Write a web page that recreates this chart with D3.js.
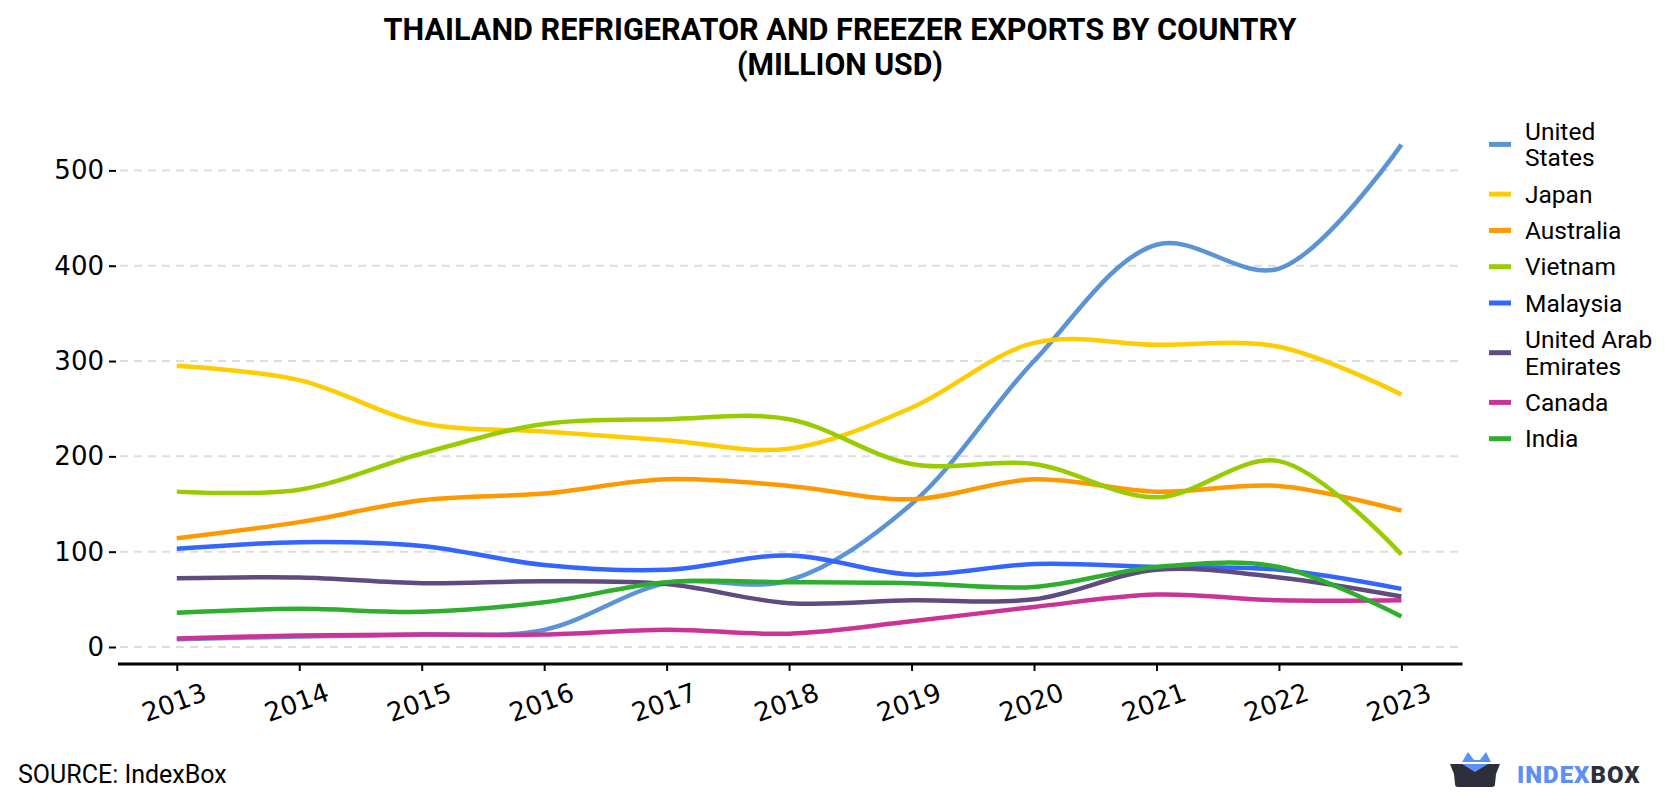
<!DOCTYPE html>
<html>
<head>
<meta charset="utf-8">
<script src="https://cdn.jsdelivr.net/npm/d3@7"></script>
<style>
  html, body { margin: 0; padding: 0; background: #fff; }
  svg { display: block; }
</style>
</head>
<body>
<svg id="chart" width="1680" height="800"></svg>
<script>
const years = [2013, 2014, 2015, 2016, 2017, 2018, 2019, 2020, 2021, 2022, 2023];
const seriesNames = ["United States", "Japan", "Australia", "Vietnam", "Malaysia", "United Arab Emirates", "Canada", "India"];
const legendLines = [["United", "States"], ["Japan"], ["Australia"], ["Vietnam"], ["Malaysia"], ["United Arab", "Emirates"], ["Canada"], ["India"]];
const seriesColors = ["#5b94d6", "#ffcc00", "#ff9900", "#99cc00", "#3366ff", "#5f4b80", "#cc3399", "#2eae2e"];
const unitedStates = [8, 11, 13, 18, 67, 70, 150, 300, 422, 397, 527];
const japan = [295, 280, 235, 226, 217, 208, 251, 319, 317, 315, 265];
const australia = [114, 131, 154, 161, 176, 169, 155, 176, 163, 169, 143];
const vietnam = [163, 165, 203, 234, 239, 239, 192, 192, 157, 195, 97];
const malaysia = [103, 110, 106, 86, 81, 96, 76, 87, 84, 81, 61];
const uae = [72, 73, 67, 69, 66, 46, 49, 50, 81, 73, 53];
const canada = [9, 12, 13, 13, 18, 14, 27, 42, 55, 49, 49];
const india = [36, 40, 37, 47, 68, 68, 67, 63, 84, 84, 32];
const seriesValues = [unitedStates, japan, australia, vietnam, malaysia, uae, canada, india];
const yTicks = [0, 100, 200, 300, 400, 500];
const titleLines = ["THAILAND REFRIGERATOR AND FREEZER EXPORTS BY COUNTRY", "(MILLION USD)"];

const svg = d3.select("#chart");

// Title
const titleWidths = [913, 206];
titleLines.forEach((t, i) => {
  svg.append("text")
    .attr("x", 840).attr("y", i === 0 ? 40 : 75)
    .attr("text-anchor", "middle")
    .attr("font-family", "Roboto, sans-serif")
    .attr("font-weight", "bold")
    .attr("font-size", 31)
    .attr("textLength", titleWidths[i])
    .attr("lengthAdjust", "spacingAndGlyphs")
    .attr("fill", "#000")
    .text(t);
});

const x = d3.scalePoint().domain(years).range([176.8, 1401.4]);
const y = d3.scaleLinear().domain([0, 500]).range([647, 170.4]);

const plotLeft = 120, plotRight = 1462.5, axisY = 664;

// Gridlines
svg.append("g").selectAll("line").data(yTicks).join("line")
  .attr("x1", plotLeft).attr("x2", plotRight)
  .attr("y1", d => y(d)).attr("y2", d => y(d))
  .attr("stroke", "#dddddd").attr("stroke-width", 2)
  .attr("stroke-dasharray", "8,6");

// Y axis (ticks + labels only)
const yAxis = d3.axisLeft(y).tickValues(yTicks).tickSize(7).tickPadding(5);
const gy = svg.append("g").attr("transform", `translate(116,0)`).call(yAxis);
gy.select(".domain").remove();
gy.selectAll(".tick line").attr("stroke", "#000").attr("stroke-width", 2);
gy.selectAll(".tick text")
  .attr("font-family", "DejaVu Sans, sans-serif")
  .attr("font-size", 26).attr("fill", "#000");

// X axis
const xAxis = d3.axisBottom(x).tickSize(7).tickSizeOuter(0).tickPadding(0);
const gx = svg.append("g").attr("transform", `translate(0,${axisY})`).call(xAxis);
gx.select(".domain").attr("d", `M${plotLeft - 2},0H${plotRight}`).attr("stroke", "#000").attr("stroke-width", 3);
gx.selectAll(".tick line").attr("stroke", "#000").attr("stroke-width", 2);
gx.selectAll(".tick text")
  .attr("font-family", "DejaVu Sans, sans-serif")
  .attr("font-size", 26).attr("fill", "#000")
  .attr("text-anchor", "middle")
  .attr("dy", null)
  .attr("y", 0)
  .attr("transform", "translate(0,47) rotate(-20)");

// Lines
const line = d3.line()
  .x((d, i) => x(years[i]))
  .y(d => y(d))
  .curve(d3.curveCatmullRom.alpha(0.5));

svg.append("g").selectAll("path").data(seriesValues).join("path")
  .attr("d", d => line(d))
  .attr("fill", "none")
  .attr("stroke", (d, i) => seriesColors[i])
  .attr("stroke-width", 4.5)
  .attr("stroke-linecap", "butt")
  .attr("stroke-linejoin", "round");

// Legend
const lg = svg.append("g");
let cy = 131;
legendLines.forEach((lines, i) => {
  const n = lines.length;
  const mid = cy + (n - 1) * 26.8 / 2;
  lg.append("line")
    .attr("x1", 1489).attr("x2", 1511)
    .attr("y1", mid).attr("y2", mid)
    .attr("stroke", seriesColors[i]).attr("stroke-width", 5);
  lines.forEach((t, j) => {
    lg.append("text")
      .attr("x", 1525).attr("y", cy + j * 26.8)
      .attr("dy", "0.35em")
      .attr("font-family", "Roboto, sans-serif")
      .attr("font-size", 24.5)
      .attr("fill", "#000")
      .text(t);
  });
  cy += (n - 1) * 26.8 + 36.3;
});

// Source
svg.append("text")
  .attr("x", 18).attr("y", 783)
  .attr("font-family", "Roboto, sans-serif")
  .attr("font-size", 25)
  .attr("fill", "#000")
  .text("SOURCE: IndexBox");

// Logo
const logo = svg.append("g");
logo.append("path")
  .attr("d", "M1462,762 L1468,752 L1474,760 L1480,760 L1486,752 L1491,762 Z")
  .attr("fill", "#5b8ff9");
logo.append("path")
  .attr("d", "M1450,764 L1500,764 L1496,774 L1495,784 Q1495,787 1492,787 L1458,787 Q1455,787 1455,784 L1454,774 Z")
  .attr("fill", "#2d2f3a");
logo.append("path")
  .attr("d", "M1462,764 L1475,772 L1488,764 Z")
  .attr("fill", "#5b8ff9");
const lt = logo.append("text")
  .attr("x", 1517).attr("y", 783)
  .attr("font-family", "Roboto, sans-serif")
  .attr("font-weight", "900")
  .attr("font-size", 24)
  .attr("letter-spacing", 1);
lt.append("tspan").attr("fill", "#5b8ff9").text("INDEX");
lt.append("tspan").attr("fill", "#2d2f3a").text("BOX");
</script>
</body>
</html>
